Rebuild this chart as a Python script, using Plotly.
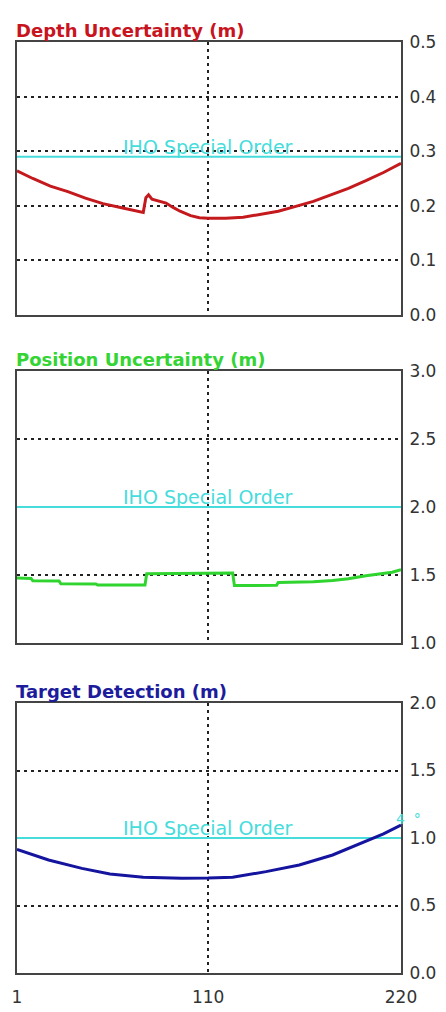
import plotly.graph_objects as go

# ---------------- data ----------------
depth_x = [1, 10, 20, 30, 40, 50, 60, 70, 73, 74.5, 76, 78, 86, 90, 94, 100, 105, 110, 120, 130, 140, 150, 160, 170, 180, 190, 200, 210, 220]
depth_y = [0.264, 0.250, 0.236, 0.226, 0.214, 0.204, 0.197, 0.191, 0.188, 0.215, 0.220, 0.212, 0.205, 0.197, 0.190, 0.182, 0.178, 0.177, 0.177, 0.179, 0.184, 0.190, 0.199, 0.208, 0.220, 0.232, 0.246, 0.261, 0.278]

pos_x = [1, 9, 10, 25, 26, 46, 47, 74, 75, 124, 125, 149, 150, 170, 181, 190, 200, 210, 215, 220]
pos_y = [1.478, 1.475, 1.458, 1.456, 1.436, 1.434, 1.426, 1.426, 1.510, 1.515, 1.422, 1.424, 1.445, 1.450, 1.460, 1.472, 1.495, 1.510, 1.520, 1.540]

target_x = [1, 19, 38, 54, 73, 95, 110, 124, 143, 162, 181, 200, 210, 220]
target_y = [0.916, 0.837, 0.775, 0.733, 0.709, 0.701, 0.703, 0.709, 0.751, 0.800, 0.874, 0.973, 1.030, 1.096]

iho_depth = 0.29
iho_pos = 2.0
iho_target = 1.0

titles = ["Depth Uncertainty (m)", "Position Uncertainty (m)", "Target Detection (m)"]
y_ranges = [[0, 0.5], [1.0, 3.0], [0, 2.0]]
y_ticks = [[0.0, 0.1, 0.2, 0.3, 0.4, 0.5], [1.0, 1.5, 2.0, 2.5, 3.0], [0.0, 0.5, 1.0, 1.5, 2.0]]
x_ticks = [1, 110, 220]
x_range = [1, 220]
iho_label = "IHO Special Order"

# ---------------- styles ----------------
W, H = 446, 1012
title_colors = ["#c8141e", "#33d433", "#1c1c9c"]
line_colors = ["#c41a1e", "#2fd42f", "#14149e"]
cyan = "#46dcdc"
frame = "#444444"
font = "DejaVu Sans"

panels_px = [(42, 315), (371, 643), (703, 973)]
x_dom = [17 / W, 401 / W]

fig = go.Figure()

series = [(depth_x, depth_y, iho_depth), (pos_x, pos_y, iho_pos), (target_x, target_y, iho_target)]

for k, ((xs, ys, lim), (top, bot)) in enumerate(zip(series, panels_px)):
    n = "" if k == 0 else str(k + 1)
    xa = "x" + n
    ya = "y" + n
    fig.add_trace(go.Scatter(x=x_range, y=[lim, lim], mode="lines",
                             line=dict(color=cyan, width=2), xaxis=xa, yaxis=ya,
                             showlegend=False, hoverinfo="skip"))
    fig.add_trace(go.Scatter(x=xs, y=ys, mode="lines",
                             line=dict(color=line_colors[k], width=3), xaxis=xa, yaxis=ya,
                             showlegend=False))
    ydom = [1 - bot / H, 1 - top / H]
    fig.update_layout(**{
        ("xaxis" + n): dict(domain=x_dom, range=x_range, anchor=ya, automargin=False,
                            tickvals=[110] if k < 2 else x_ticks,
                            showticklabels=(k == 2),
                            showgrid=True, gridcolor="#222222", gridwidth=2, griddash="3px,4px",
                            showline=True, mirror=True, linecolor=frame, linewidth=2,
                            zeroline=False, ticks="", ticklabelstandoff=8,
                            tickfont=dict(family=font, size=17, color="#333333")),
        ("yaxis" + n): dict(domain=ydom, range=y_ranges[k], anchor=xa, side="right",
                            automargin=False,
                            tickvals=y_ticks[k], tickformat=".1f",
                            showgrid=True, gridcolor="#222222", gridwidth=2, griddash="3px,4px",
                            showline=True, mirror=True, linecolor=frame, linewidth=2,
                            zeroline=False, ticks="", ticklabelstandoff=3,
                            tickfont=dict(family=font, size=17, color="#333333")),
    })
    fig.add_annotation(text="<b>" + titles[k] + "</b>", xref="paper", yref="paper",
                       x=14 / W, y=1 - (top - 12) / H, xanchor="left", yanchor="middle",
                       showarrow=False, font=dict(family=font, size=18, color=title_colors[k]))
    fig.add_annotation(text=iho_label, xref=xa, yref=ya, x=110, y=lim,
                       xanchor="center", yanchor="bottom", yshift=-3, showarrow=False,
                       font=dict(family=font, size=19, color=cyan))

fig.add_annotation(text="4  °", xref="paper", yref="paper", x=408 / W, y=1 - 819 / H,
                   xanchor="center", yanchor="middle", showarrow=False,
                   font=dict(family=font, size=14, color=cyan))

fig.update_layout(width=W, height=H, margin=dict(l=0, r=0, t=0, b=0, autoexpand=False),
                  paper_bgcolor="white", plot_bgcolor="white")

fig.write_html("out.html", config={"displayModeBar": False},
               post_script="document.body.style.margin='0';document.body.style.overflow='hidden';")
